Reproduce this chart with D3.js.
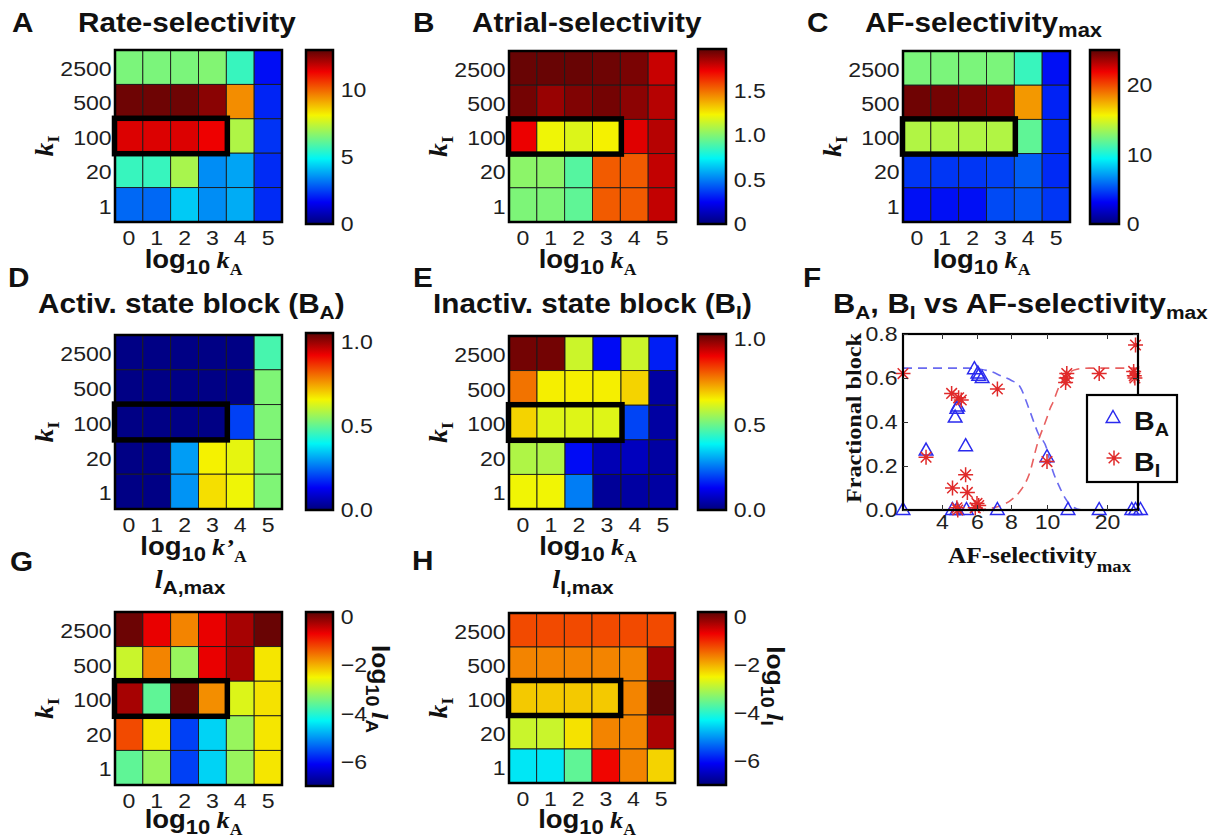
<!DOCTYPE html>
<html><head><meta charset="utf-8">
<script src="https://cdn.jsdelivr.net/npm/d3@7"></script>
<style>body{margin:0;background:#fff}svg{display:block}text{white-space:pre}</style>
</head><body><svg id="c" width="1221" height="840"></svg>
<script>
// ---------------- DATA ----------------
const rowsKI = ["2500","500","100","20","1"];
const colsKA = ["0","1","2","3","4","5"];
const highlightRow = "100";
const highlightCols = ["0","1","2","3"];

const rateSelectivity = [
 [6.5, 6.5, 6.5, 6.6, 5.6, 1.8],
 [12.8, 12.8, 12.8, 12.5, 9.5, 2.1],
 [11.6, 11.6, 11.6, 11.4, 7.2, 2.3],
 [5.6, 5.6, 7.1, 3.5, 3.8, 2.2],
 [3.0, 3.0, 4.3, 3.5, 3.9, 2.2]];
const atrialSelectivity = [
 [1.95,1.95,1.95,1.94,1.92,1.79],
 [1.93,1.87,1.91,1.93,1.89,1.82],
 [1.73,1.22,1.18,1.24,1.75,1.82],
 [1.02,1.02,0.91,1.54,1.54,1.80],
 [0.99,0.99,0.93,1.54,1.54,1.80]];
const afSelectivityMax = [
 [12.5,12.5,12.5,12.5,10.8,3.5],
 [24.6,24.5,24.3,24.0,18.0,4.0],
 [13.9,13.9,13.9,13.9,11.8,4.2],
 [4.5,4.5,4.5,4.8,5.5,4.2],
 [3.5,3.5,3.5,5.0,5.3,4.5]];
const blockA = [
 [0.01,0.01,0.01,0.01,0.01,0.47],
 [0.01,0.01,0.01,0.01,0.01,0.53],
 [0.01,0.01,0.01,0.01,0.20,0.53],
 [0.01,0.01,0.30,0.66,0.64,0.53],
 [0.01,0.01,0.29,0.68,0.65,0.53]];
const blockI = [
 [1.01,1.01,0.60,0.14,0.60,0.16],
 [0.78,0.65,0.65,0.65,0.68,0.04],
 [0.68,0.62,0.62,0.62,0.20,0.04],
 [0.57,0.57,0.14,0.06,0.07,0.04],
 [0.64,0.64,0.26,0.03,0.04,0.04]];
const logLA = [
 [0.10,-0.66,-1.67,-0.66,-0.25,0.12],
 [-2.82,-1.67,-3.18,-0.66,-0.25,-2.39],
 [-0.25,-3.60,0.12,-1.74,-2.68,-2.36],
 [-1.24,-2.39,-5.63,-4.55,-3.18,-2.39],
 [-3.60,-3.18,-5.63,-4.55,-3.18,-2.39]];
const logLI = [
 [-1.24,-1.24,-1.24,-1.24,-1.24,-1.24],
 [-1.67,-1.67,-1.67,-1.67,-1.67,-0.20],
 [-2.18,-2.18,-2.18,-2.18,-1.67,0.15],
 [-2.82,-2.82,-2.36,-1.67,-1.67,-0.28],
 [-4.40,-4.40,-3.60,-0.74,-1.67,-2.25]];

// Panel F: scatter points and fitted curves
const baX = [1.8, 3.1, 4.75, 4.85, 4.9, 5.35, 5.85, 6.05, 6.3, 6.1, 4.6, 4.85, 5.4, 7.2, 10.0, 13.5, 18.7, 24.0, 24.6, 25.4];
const baY = [0.0, 0.27, 0.42, 0.46, 0.47, 0.29, 0.64, 0.62, 0.60, 0.61, 0.0, 0.0, 0.0, 0.0, 0.24, 0.0, 0.0, 0.0, 0.0, 0.0];
const biX = [1.8, 3.1, 4.55, 4.95, 5.1, 5.35, 4.6, 5.45, 4.85, 4.9, 6.0, 6.1, 5.9, 7.2, 10.0, 13.3, 13.2, 13.1, 18.7, 24.3, 24.4, 24.5, 24.6];
const biY = [0.62, 0.24, 0.53, 0.51, 0.50, 0.16, 0.10, 0.08, 0.01, 0.0, 0.03, 0.02, 0.01, 0.55, 0.22, 0.62, 0.60, 0.58, 0.62, 0.63, 0.61, 0.60, 0.75];
const fitBAx = [1.8, 5.5, 6.2, 6.8, 7.4, 8.0, 8.5, 9.0, 9.5, 10, 10.5, 11, 12, 13, 14, 15, 16];
const fitBAy = [0.645, 0.645, 0.64, 0.63, 0.61, 0.59, 0.56, 0.46, 0.35, 0.275, 0.22, 0.175, 0.11, 0.055, 0.02, 0.005, 0.0];
const fitBIx = [6.0, 6.6, 7.2, 8.0, 8.5, 9.0, 9.5, 10, 10.5, 11, 12, 13, 14, 15, 17, 25.5];
const fitBIy = [0.0, 0.005, 0.015, 0.045, 0.085, 0.16, 0.31, 0.42, 0.46, 0.49, 0.56, 0.605, 0.63, 0.64, 0.645, 0.645];
const fXTicks = [4, 6, 8, 10, 20];
const fYTicks = [0, 0.2, 0.4, 0.6, 0.8];

// ---------------- STYLE / LAYOUT ----------------
const SANS = "'Liberation Sans', Arial, Helvetica, sans-serif";
const SERIF = "'Liberation Serif', 'Times New Roman', serif";
const SX = 1.1;
const jetStops = [0, .125, .375, .625, .875, 1];
const jetColors = ["#00007c","#0000f5","#00f5f5","#f5f500","#f00000","#5c0404"];
const jet = d3.scaleLinear().domain(jetStops).range(jetColors).interpolate(d3.interpolateRgb).clamp(true);

const svg = d3.select("#c");
const defs = svg.append("defs");
const grad = defs.append("linearGradient").attr("id","jetGrad").attr("x1",0).attr("y1",1).attr("x2",0).attr("y2",0);
jetStops.forEach((s,i)=>grad.append("stop").attr("offset",s).attr("stop-color",jetColors[i]));

function rich(parent, x, y, parts, opt={}) {
  const anchor = opt.anchor || "start", rot = opt.rotate || 0;
  const t = parent.append("text")
    .attr("transform", `translate(${x},${y}) rotate(${rot}) scale(${SX},1)`)
    .attr("text-anchor", anchor);
  parts.forEach(p => {
    t.append("tspan").text(p.t).attr("dy", p.dy || 0)
      .style("font-family", p.f || SANS).style("font-size", p.s + "px")
      .style("font-weight", p.w || "bold").style("font-style", p.i ? "italic" : "normal")
      .attr("fill", p.c || "#111");
  });
  return t;
}
function styleAxis(a, size) {
  a.select(".domain").remove();
  a.selectAll("text").style("font-family", SANS).style("font-size", size + "px")
    .attr("fill", "#1e1e1e").attr("transform", `scale(${SX},1)`);
}

function heat(cfg, data, cb, xlabelParts) {
  const g = svg.append("g");
  const xs = d3.scaleBand().domain(colsKA).range([cfg.x0, cfg.x0 + cfg.w]);
  const ys = d3.scaleBand().domain(rowsKI).range([cfg.y0, cfg.y0 + cfg.h]);
  const tn = d3.scaleLinear().domain(cb.domain).range([0, 1]);
  const cells = [];
  data.forEach((row, i) => row.forEach((v, j) => cells.push({r: rowsKI[i], c: colsKA[j], v})));
  g.selectAll("rect.cell").data(cells).join("rect").attr("class","cell")
    .attr("x", d => xs(d.c)).attr("y", d => ys(d.r))
    .attr("width", xs.bandwidth()).attr("height", ys.bandwidth())
    .attr("fill", d => jet(tn(d.v))).attr("stroke", "#1a1a1a").attr("stroke-width", 0.9);
  g.append("rect").attr("x", cfg.x0).attr("y", cfg.y0).attr("width", cfg.w).attr("height", cfg.h)
    .attr("fill", "none").attr("stroke", "#000").attr("stroke-width", 2.5);
  g.append("rect").attr("x", xs(highlightCols[0]) - 0.5).attr("y", ys(highlightRow) - 0.5)
    .attr("width", xs.bandwidth() * highlightCols.length + 1.5).attr("height", ys.bandwidth() + 1)
    .attr("fill", "none").attr("stroke", "#000").attr("stroke-width", 5.5);
  const ya = g.append("g").attr("transform", `translate(${cfg.x0},2)`).call(d3.axisLeft(ys).tickSize(0).tickPadding(3));
  styleAxis(ya, 21);
  const xa = g.append("g").attr("transform", `translate(0,${cfg.y0 + cfg.h})`).call(d3.axisBottom(xs).tickSize(0).tickPadding(8));
  styleAxis(xa, 21);
  // colorbar
  const cy = d3.scaleLinear().domain(cb.domain).range([cb.y1, cb.y0]);
  g.append("rect").attr("x", cb.x).attr("y", cb.y0).attr("width", cb.w).attr("height", cb.y1 - cb.y0)
    .attr("fill", "url(#jetGrad)").attr("stroke", "#000").attr("stroke-width", 2.5);
  const ca = g.append("g").attr("transform", `translate(${cb.x + cb.w},0)`)
    .call(d3.axisRight(cy).tickValues(cb.ticks).tickFormat(cb.fmt).tickSize(0).tickPadding(7));
  styleAxis(ca, 21);
  // x label
  rich(g, cfg.x0 + cfg.w / 2 - 5, cfg.y0 + cfg.h + (cfg.lab || 46), xlabelParts, {anchor: "middle"});
  // y label
  rich(g, cfg.x0 - 62, cfg.y0 + cfg.h / 2 + 10, [
    {t: "k", f: SERIF, s: 25, i: true},
    {t: "I", f: SERIF, s: 17, dy: 6}], {anchor: "middle", rotate: -90});
  return g;
}
const xlab = (kprime) => [
  {t: "log", s: 25}, {t: "10", s: 20, dy: 6}, {t: " ", s: 20, dy: -6},
  {t: kprime ? "k’" : "k", f: SERIF, s: 24, i: true},
  {t: "A", f: SERIF, s: 16, dy: 7}];

heat({x0: 115, y0: 50, w: 167, h: 172}, rateSelectivity,
  {x: 306, w: 27, y0: 50, y1: 224, domain: [0, 13], ticks: [0, 5, 10], fmt: d3.format("d")}, xlab(false));
heat({x0: 509, y0: 51, w: 167, h: 171}, atrialSelectivity,
  {x: 698, w: 28, y0: 49, y1: 224, domain: [0, 1.97], ticks: [0, 0.5, 1, 1.5], fmt: d => d === 0 ? "0" : d3.format(".1f")(d)}, xlab(false));
heat({x0: 903, y0: 51, w: 167, h: 171}, afSelectivityMax,
  {x: 1090, w: 29, y0: 50, y1: 224, domain: [0, 25], ticks: [0, 10, 20], fmt: d3.format("d")}, xlab(false));
heat({x0: 115, y0: 335, w: 167, h: 174}, blockA,
  {x: 306, w: 27, y0: 333, y1: 510, domain: [0, 1.05], ticks: [0, 0.5, 1], fmt: d3.format(".1f")}, xlab(true));
heat({x0: 509, y0: 336, w: 168, h: 173}, blockI,
  {x: 698, w: 28, y0: 334, y1: 510, domain: [0, 1.03], ticks: [0, 0.5, 1], fmt: d3.format(".1f")}, xlab(false));
heat({x0: 115, y0: 612, w: 167, h: 173, lab: 43}, logLA,
  {x: 306, w: 27, y0: 612, y1: 786, domain: [-7, 0.2], ticks: [0, -2, -4, -6], fmt: d3.format("d")}, xlab(false));
heat({x0: 509, y0: 613, w: 166, h: 170, lab: 45}, logLI,
  {x: 698, w: 28, y0: 612, y1: 785, domain: [-7, 0.2], ticks: [0, -2, -4, -6], fmt: d3.format("d")}, xlab(false));

// colorbar labels G, H
rich(svg, 372, 689, [{t: "log", s: 24}, {t: "10", s: 18, dy: 6}, {t: " ", s: 18, dy: -6},
  {t: "l", f: SERIF, s: 24, i: true}, {t: "A", s: 17, dy: 6}], {anchor: "middle", rotate: 90});
rich(svg, 767, 686, [{t: "log", s: 24}, {t: "10", s: 18, dy: 6}, {t: " ", s: 18, dy: -6},
  {t: "l", f: SERIF, s: 24, i: true}, {t: "I", s: 17, dy: 6}], {anchor: "middle", rotate: 90});

// titles & panel letters
const LET = 27, TT = 27, SUB = 19;
rich(svg, 12, 32, [{t: "A", s: LET}]);
rich(svg, 78, 32, [{t: "Rate-selectivity", s: TT}]);
rich(svg, 413, 32, [{t: "B", s: LET}]);
rich(svg, 472, 32, [{t: "Atrial-selectivity", s: TT}]);
rich(svg, 807, 32, [{t: "C", s: LET}]);
rich(svg, 865, 32, [{t: "AF-selectivity", s: TT}, {t: "max", s: 20, dy: 5}]);
rich(svg, 8, 287, [{t: "D", s: LET}]);
rich(svg, 38, 313, [{t: "Activ. state block (B", s: TT}, {t: "A", s: SUB, dy: 6}, {t: ")", s: TT, dy: -6}]);
rich(svg, 413, 287, [{t: "E", s: LET}]);
rich(svg, 433, 313, [{t: "Inactiv. state block (B", s: TT}, {t: "I", s: SUB, dy: 6}, {t: ")", s: TT, dy: -6}]);
rich(svg, 803, 287, [{t: "F", s: LET}]);
rich(svg, 833, 313, [{t: "B", s: 28}, {t: "A", s: SUB, dy: 6}, {t: ", B", s: 28, dy: -6}, {t: "I", s: SUB, dy: 6},
  {t: " vs AF-selectivity", s: 28, dy: -6}, {t: "max", s: SUB, dy: 6}]);
rich(svg, 10, 571, [{t: "G", s: LET}]);
rich(svg, 190, 588, [{t: "l", f: SERIF, s: 26, i: true}, {t: "A,max", s: 19, dy: 6}], {anchor: "middle"});
rich(svg, 412, 570, [{t: "H", s: LET}]);
rich(svg, 583, 588, [{t: "l", f: SERIF, s: 26, i: true}, {t: "I,max", s: 19, dy: 6}], {anchor: "middle"});

// ---------------- PANEL F ----------------
const F = {x0: 903, x1: 1138, y0: 334, y1: 510};
const fx = d3.scaleLinear().domain([1.8, 4, 6, 8, 10, 20, 25]).range([903, 942, 977, 1011, 1047, 1107, 1138]);
const fy = d3.scaleLinear().domain([0, 0.8]).range([F.y1, F.y0]);
const fg = svg.append("g");
const BLUE = "#2a2aee", RED = "#e02a2a";
const line = d3.line().x(d => fx(d[0])).y(d => fy(d[1])).curve(d3.curveMonotoneX);
fg.append("path").attr("d", line(d3.zip(fitBAx, fitBAy))).attr("fill", "none")
  .attr("stroke", "#6a6af0").attr("stroke-width", 1.6).attr("stroke-dasharray", "9,6");
fg.append("path").attr("d", line(d3.zip(fitBIx, fitBIy))).attr("fill", "none")
  .attr("stroke", "#e86060").attr("stroke-width", 1.6).attr("stroke-dasharray", "9,6");
const triPath = "M0,-7.5L6.8,4.5L-6.8,4.5Z";
const r = 7.5, a = r * 0.707;
const starPath = `M${-r},0L${r},0M0,${-r}L0,${r}M${-a},${-a}L${a},${a}M${-a},${a}L${a},${-a}`;
fg.selectAll("path.ba").data(d3.zip(baX, baY)).join("path").attr("class", "ba")
  .attr("d", triPath).attr("transform", d => `translate(${fx(d[0])},${fy(d[1])})`)
  .attr("fill", "none").attr("stroke", BLUE).attr("stroke-width", 1.5);
fg.selectAll("path.bi").data(d3.zip(biX, biY)).join("path").attr("class", "bi")
  .attr("d", starPath).attr("transform", d => `translate(${fx(d[0])},${fy(d[1])})`)
  .attr("fill", "none").attr("stroke", RED).attr("stroke-width", 1.5);
fg.append("rect").attr("x", F.x0).attr("y", F.y0).attr("width", F.x1 - F.x0).attr("height", F.y1 - F.y0)
  .attr("fill", "none").attr("stroke", "#000").attr("stroke-width", 2.2);
const fb = fg.append("g").attr("transform", `translate(0,${F.y1})`)
  .call(d3.axisBottom(fx).tickValues(fXTicks).tickFormat(d3.format("d")).tickSizeInner(-5).tickSizeOuter(0).tickPadding(4));
styleAxis(fb, 21);
const ft = fg.append("g").attr("transform", `translate(0,${F.y0})`)
  .call(d3.axisTop(fx).tickValues(fXTicks).tickFormat("").tickSizeInner(-5).tickSizeOuter(0));
styleAxis(ft, 21);
const fl = fg.append("g").attr("transform", `translate(${F.x0},0)`)
  .call(d3.axisLeft(fy).tickValues(fYTicks).tickFormat(d3.format(".1f")).tickSizeInner(-5).tickSizeOuter(0).tickPadding(5));
styleAxis(fl, 21);
const fr = fg.append("g").attr("transform", `translate(${F.x1},0)`)
  .call(d3.axisRight(fy).tickValues(fYTicks).tickFormat("").tickSizeInner(-5).tickSizeOuter(0));
styleAxis(fr, 21);
fg.selectAll(".tick line").attr("stroke", "#333");
// F axis labels
rich(fg, 861, 418, [{t: "Fractional block", f: SERIF, s: 22}], {anchor: "middle", rotate: -90});
rich(fg, 948, 563, [{t: "AF-selectivity", f: SERIF, s: 23}, {t: "max", f: SERIF, s: 17, dy: 9}]);
// legend
fg.append("rect").attr("x", 1087).attr("y", 395).attr("width", 90).attr("height", 87)
  .attr("fill", "#fff").attr("stroke", "#000").attr("stroke-width", 2.2);
fg.append("path").attr("d", triPath).attr("transform", "translate(1113,418)")
  .attr("fill", "none").attr("stroke", BLUE).attr("stroke-width", 1.5);
fg.append("path").attr("d", starPath).attr("transform", "translate(1114,458)")
  .attr("fill", "none").attr("stroke", RED).attr("stroke-width", 1.5);
rich(fg, 1134, 430, [{t: "B", s: 26}, {t: "A", s: 18, dy: 6}]);
rich(fg, 1134, 471, [{t: "B", s: 26}, {t: "I", s: 18, dy: 6}]);
</script></body></html>
